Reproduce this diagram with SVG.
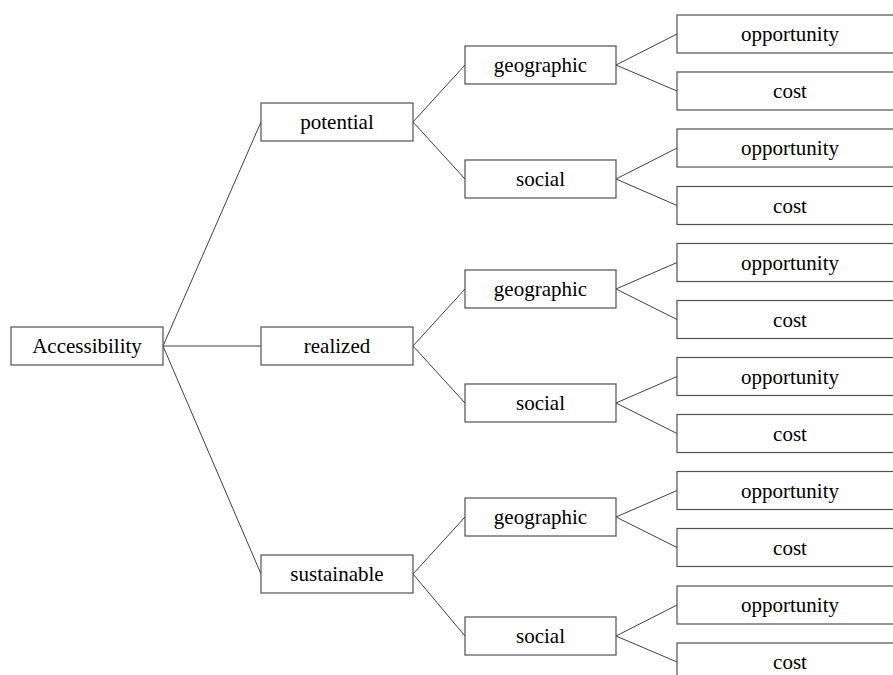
<svg xmlns="http://www.w3.org/2000/svg" width="893" height="675" viewBox="0 0 893 675">
<style>
rect{fill:#fff;stroke:#505050;stroke-width:1.2}
text{font-family:"Liberation Serif","Times New Roman",serif;font-size:21px;fill:#000;text-anchor:middle}
#connectors line{stroke:#404040;stroke-width:1}
</style>
<rect x="0" y="0" width="893" height="675" style="stroke:none"/>
<g id="connectors">
<line x1="163" y1="346" x2="261" y2="122"/>
<line x1="163" y1="346" x2="261" y2="346"/>
<line x1="163" y1="346" x2="261" y2="574"/>
<line x1="413" y1="122" x2="465" y2="65"/>
<line x1="413" y1="122" x2="465" y2="179"/>
<line x1="413" y1="346" x2="465" y2="289"/>
<line x1="413" y1="346" x2="465" y2="403"/>
<line x1="413" y1="574" x2="465" y2="517"/>
<line x1="413" y1="574" x2="465" y2="636"/>
<line x1="616" y1="65" x2="677" y2="34"/>
<line x1="616" y1="65" x2="677" y2="91"/>
<line x1="616" y1="179" x2="677" y2="148"/>
<line x1="616" y1="179" x2="677" y2="205.5"/>
<line x1="616" y1="289" x2="677" y2="262.5"/>
<line x1="616" y1="289" x2="677" y2="319.5"/>
<line x1="616" y1="403" x2="677" y2="376.5"/>
<line x1="616" y1="403" x2="677" y2="433.5"/>
<line x1="616" y1="517" x2="677" y2="490.5"/>
<line x1="616" y1="517" x2="677" y2="547.5"/>
<line x1="616" y1="636" x2="677" y2="605"/>
<line x1="616" y1="636" x2="677" y2="662"/>
</g>
<g id="n-accessibility"><rect x="11" y="327" width="152" height="38"/><text x="87" y="353">Accessibility</text></g>
<g id="n-potential"><rect x="261" y="103" width="152" height="38"/><text x="337" y="129">potential</text></g>
<g id="n-realized"><rect x="261" y="327" width="152" height="38"/><text x="337" y="353">realized</text></g>
<g id="n-sustainable"><rect x="261" y="555" width="152" height="38"/><text x="337" y="581">sustainable</text></g>
<g id="n-pot-geo"><rect x="465" y="46" width="151" height="38"/><text x="540.5" y="72">geographic</text></g>
<g id="n-pot-soc"><rect x="465" y="160" width="151" height="38"/><text x="540.5" y="186">social</text></g>
<g id="n-real-geo"><rect x="465" y="270" width="151" height="38"/><text x="540.5" y="296">geographic</text></g>
<g id="n-real-soc"><rect x="465" y="384" width="151" height="38"/><text x="540.5" y="410">social</text></g>
<g id="n-sus-geo"><rect x="465" y="498" width="151" height="38"/><text x="540.5" y="524">geographic</text></g>
<g id="n-sus-soc"><rect x="465" y="617" width="151" height="38"/><text x="540.5" y="643">social</text></g>
<g id="n-l1"><rect x="677" y="15" width="230" height="38"/><text x="790" y="41">opportunity</text></g>
<g id="n-l2"><rect x="677" y="72" width="230" height="38"/><text x="790" y="98">cost</text></g>
<g id="n-l3"><rect x="677" y="129" width="230" height="38"/><text x="790" y="155">opportunity</text></g>
<g id="n-l4"><rect x="677" y="186.5" width="230" height="38"/><text x="790" y="212.5">cost</text></g>
<g id="n-l5"><rect x="677" y="243.5" width="230" height="38"/><text x="790" y="269.5">opportunity</text></g>
<g id="n-l6"><rect x="677" y="300.5" width="230" height="38"/><text x="790" y="326.5">cost</text></g>
<g id="n-l7"><rect x="677" y="357.5" width="230" height="38"/><text x="790" y="383.5">opportunity</text></g>
<g id="n-l8"><rect x="677" y="414.5" width="230" height="38"/><text x="790" y="440.5">cost</text></g>
<g id="n-l9"><rect x="677" y="471.5" width="230" height="38"/><text x="790" y="497.5">opportunity</text></g>
<g id="n-l10"><rect x="677" y="528.5" width="230" height="38"/><text x="790" y="554.5">cost</text></g>
<g id="n-l11"><rect x="677" y="586" width="230" height="38"/><text x="790" y="612">opportunity</text></g>
<g id="n-l12"><rect x="677" y="643" width="230" height="38"/><text x="790" y="669">cost</text></g>
</svg>
